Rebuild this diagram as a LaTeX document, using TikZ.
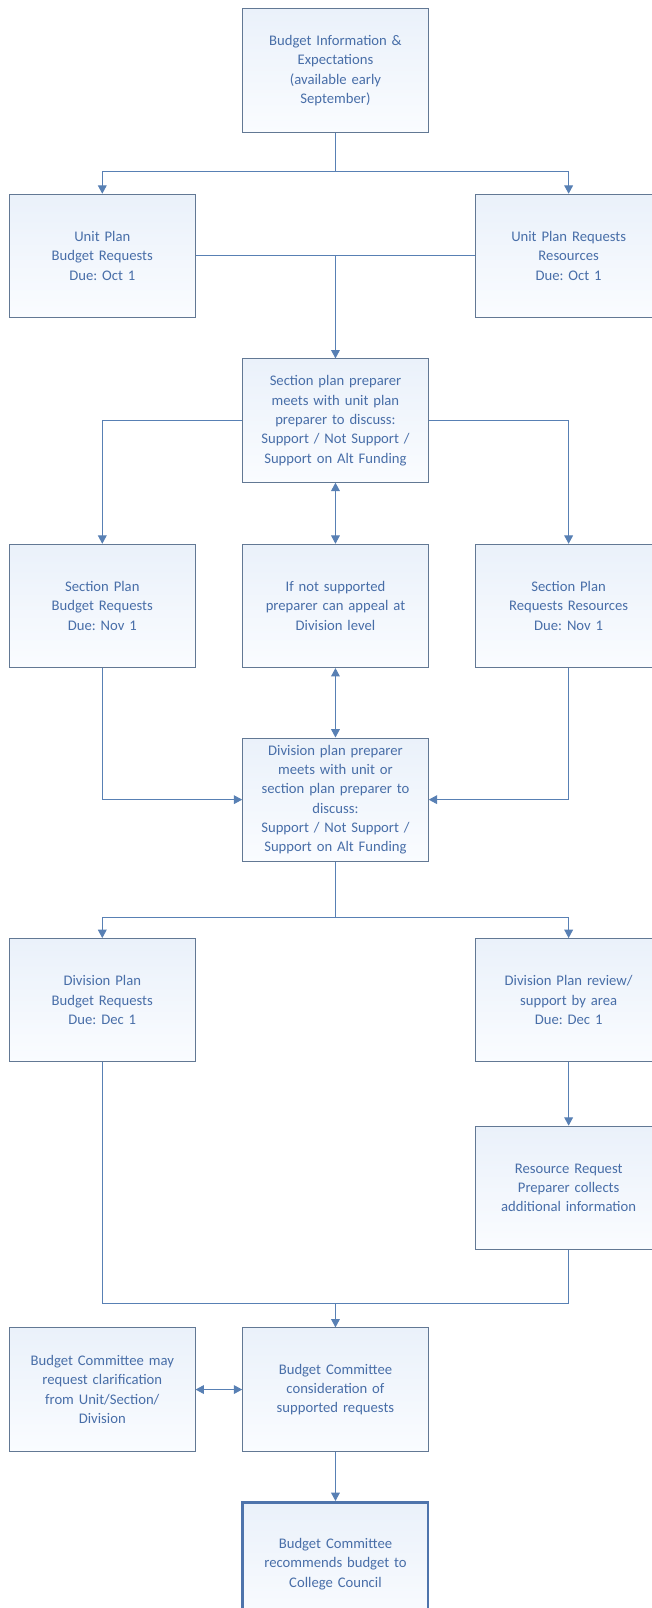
\documentclass[tikz,border=0pt]{standalone}
\usepackage{fontspec}
\setmainfont{Carlito}
\usetikzlibrary{arrows.meta, calc, positioning}
\definecolor{boxline}{RGB}{98,120,148}
\definecolor{boxtext}{RGB}{72,110,168}
\definecolor{arrline}{RGB}{88,128,180}
\definecolor{boxtop}{RGB}{234,241,250}
\definecolor{boxbot}{RGB}{250,252,255}
\definecolor{recline}{RGB}{78,116,172}
\frenchspacing

\begin{document}
\begin{tikzpicture}[auto,
node distance = 16.1mm and 12.3mm,
every node/.style = {draw=boxline, line width=0.75pt,
                     top color=boxtop, bottom color=boxbot,
                     inner sep=0pt, text=boxtext,
                     minimum width=48.9mm, minimum height=32.5mm,
                     font=\fontsize{11}{14.5}\selectfont,
                     text width=46mm, align=center},
conn/.style = {color=arrline, line width=0.75pt},
arr/.style  = {conn, -{Triangle[length=2.2mm,width=2.3mm]}},
dbl/.style  = {conn, {Triangle[length=2.2mm,width=2.3mm]}-{Triangle[length=2.2mm,width=2.3mm]}},
                    ]
%---
\useasboundingbox (-251.6pt,52.9pt) rectangle (237.4pt,-1153.1pt);

\node (info) {Budget Information \&\\ Expectations\\ (available early\\ September)};
\node (unit_bud) [below left=16.1mm and 12.3mm of info] {Unit Plan\\ Budget Requests\\ Due: Oct 1};
\node (unit_res) [below right=16.1mm and 12.3mm of info] {Unit Plan Requests\\ Resources\\ Due: Oct 1};
\node (sec_meet) [below=59.5mm of info] {Section plan preparer\\ meets with unit plan\\ preparer to discuss:\\ Support / Not Support /\\ Support on Alt Funding};
\node (appeal) [below=of sec_meet] {If not supported\\ preparer can appeal at\\ Division level};
\node (sec_bud) [left=of appeal] {Section Plan\\ Budget Requests\\ Due: Nov 1};
\node (sec_res) [right=of appeal] {Section Plan\\ Requests Resources\\ Due: Nov 1};
\node (div_meet) [below=18.3mm of appeal] {Division plan preparer\\ meets with unit or\\ section plan preparer to\\ discuss:\\ Support / Not Support /\\ Support on Alt Funding};
\node (div_bud) [below left=20.1mm and 12.3mm of div_meet] {Division Plan\\ Budget Requests\\ Due: Dec 1};
\node (div_res) [below right=20.1mm and 12.3mm of div_meet] {Division Plan review/\\ support by area\\ Due: Dec 1};
\node (res_req) [below=16.7mm of div_res] {Resource Request\\ Preparer collects\\ additional information};
\node (bc_cons) [below left=20.4mm and 12.3mm of res_req] {Budget Committee\\ consideration of\\ supported requests};
\node (bc_clar) [left=of bc_cons] {Budget Committee may\\ request clarification\\ from Unit/Section/\\ Division};
\node (bc_rec) [below=13mm of bc_cons, draw=recline, line width=1.9pt] {Budget Committee\\ recommends budget to\\ College Council};

\coordinate[below=10.3mm of info.south]     (temp1);
\coordinate[below=14.6mm of div_meet.south] (temp2);
\coordinate[above=6.4mm of bc_cons.north]   (temp3);

% edges
\draw[conn] (info) -- (temp1);
\draw[arr]  (temp1) -| (unit_bud.north);
\draw[arr]  (temp1) -| (unit_res.north);
\draw[conn] (unit_bud) -- (unit_res);
\draw[arr]  (sec_meet.north |- unit_bud.east) -- (sec_meet.north);
\draw[arr]  (sec_meet.west) -| (sec_bud.north);
\draw[arr]  (sec_meet.east) -| (sec_res.north);
\draw[dbl]  (sec_meet) -- (appeal);
\draw[dbl]  (appeal) -- (div_meet);
\draw[arr]  (sec_bud.south) |- (div_meet.west);
\draw[arr]  (sec_res.south) |- (div_meet.east);
\draw[conn] (div_meet) -- (temp2);
\draw[arr]  (temp2) -| (div_bud.north);
\draw[arr]  (temp2) -| (div_res.north);
\draw[arr]  (div_res) -- (res_req);
\draw[conn] (div_bud.south) |- (temp3) -| (res_req.south);
\draw[arr]  (temp3) -- (bc_cons.north);
\draw[dbl]  (bc_clar) -- (bc_cons);
\draw[arr]  (bc_cons) -- (bc_rec);
\end{tikzpicture}
\end{document}
